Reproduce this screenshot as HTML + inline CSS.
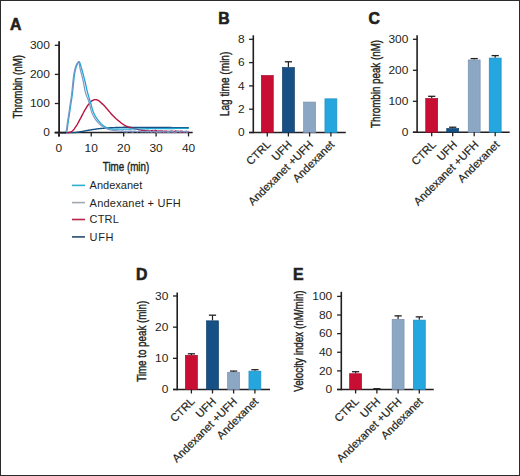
<!DOCTYPE html>
<html><head><meta charset="utf-8"><style>
html,body{margin:0;padding:0;background:#fff;}
svg{display:block;font-family:"Liberation Sans",sans-serif;}
</style></head><body>
<svg width="520" height="476" viewBox="0 0 520 476" font-family="Liberation Sans, sans-serif"><rect x="0.5" y="0.5" width="519" height="475" fill="#fff" stroke="#2b2b2b" stroke-width="1"/>
<text x="10.00" y="29.90" font-size="15.8" text-anchor="start" fill="#231f20" font-weight="bold" stroke="#231f20" stroke-width="0.6">A</text>
<text x="218.30" y="23.80" font-size="15.8" text-anchor="start" fill="#231f20" font-weight="bold" stroke="#231f20" stroke-width="0.6">B</text>
<text x="368.50" y="24.40" font-size="15.8" text-anchor="start" fill="#231f20" font-weight="bold" stroke="#231f20" stroke-width="0.6">C</text>
<text x="135.90" y="280.20" font-size="15.8" text-anchor="start" fill="#231f20" font-weight="bold" stroke="#231f20" stroke-width="0.6">D</text>
<text x="292.90" y="279.70" font-size="15.8" text-anchor="start" fill="#231f20" font-weight="bold" stroke="#231f20" stroke-width="0.6">E</text>
<line x1="59.10" y1="41.30" x2="59.10" y2="136.40" stroke="#231f20" stroke-width="1.8"/>
<line x1="54.80" y1="132.60" x2="59.10" y2="132.60" stroke="#231f20" stroke-width="1.3"/>
<text font-size="10.3" text-anchor="end" fill="#231f20" transform="translate(49.80,136.40) scale(1.16,1)">0</text>
<line x1="54.80" y1="103.50" x2="59.10" y2="103.50" stroke="#231f20" stroke-width="1.3"/>
<text font-size="10.3" text-anchor="end" fill="#231f20" transform="translate(49.80,107.30) scale(1.16,1)">100</text>
<line x1="54.80" y1="74.40" x2="59.10" y2="74.40" stroke="#231f20" stroke-width="1.3"/>
<text font-size="10.3" text-anchor="end" fill="#231f20" transform="translate(49.80,78.20) scale(1.16,1)">200</text>
<line x1="54.80" y1="45.30" x2="59.10" y2="45.30" stroke="#231f20" stroke-width="1.3"/>
<text font-size="10.3" text-anchor="end" fill="#231f20" transform="translate(49.80,49.10) scale(1.16,1)">300</text>
<line x1="54.80" y1="132.60" x2="192.70" y2="132.60" stroke="#231f20" stroke-width="1.5"/>
<line x1="58.80" y1="132.60" x2="58.80" y2="136.40" stroke="#231f20" stroke-width="1.3"/>
<text font-size="10.3" text-anchor="middle" fill="#231f20" transform="translate(58.80,151.60) scale(1.16,1)">0</text>
<line x1="91.23" y1="132.60" x2="91.23" y2="136.40" stroke="#231f20" stroke-width="1.3"/>
<text font-size="10.3" text-anchor="middle" fill="#231f20" transform="translate(91.23,151.60) scale(1.16,1)">10</text>
<line x1="123.66" y1="132.60" x2="123.66" y2="136.40" stroke="#231f20" stroke-width="1.3"/>
<text font-size="10.3" text-anchor="middle" fill="#231f20" transform="translate(123.66,151.60) scale(1.16,1)">20</text>
<line x1="156.09" y1="132.60" x2="156.09" y2="136.40" stroke="#231f20" stroke-width="1.3"/>
<text font-size="10.3" text-anchor="middle" fill="#231f20" transform="translate(156.09,151.60) scale(1.16,1)">30</text>
<line x1="188.52" y1="132.60" x2="188.52" y2="136.40" stroke="#231f20" stroke-width="1.3"/>
<text font-size="10.3" text-anchor="middle" fill="#231f20" transform="translate(188.52,151.60) scale(1.16,1)">40</text>
<text font-size="12.5" text-anchor="middle" fill="#231f20" stroke="#231f20" stroke-width="0.4" textLength="46.5" lengthAdjust="spacingAndGlyphs" transform="translate(126.00,170.60)">Time (min)</text>
<text font-size="12.5" text-anchor="middle" fill="#231f20" stroke="#231f20" stroke-width="0.4" textLength="63.5" lengthAdjust="spacingAndGlyphs" transform="translate(21.90,86.80) rotate(-90)">Thrombin (nM)</text>
<path d="M58.80,132.60 L59.30,132.60 L59.80,132.60 L60.30,132.60 L60.80,132.60 L61.30,132.60 L61.80,132.60 L62.30,132.60 L62.80,132.60 L63.30,132.60 L63.80,132.60 L64.30,132.60 L64.80,132.60 L65.30,132.60 L65.80,132.60 L66.30,132.60 L66.80,132.60 L67.30,132.60 L67.80,132.60 L68.30,132.60 L68.80,132.60 L69.30,132.60 L69.80,132.60 L70.30,132.60 L70.80,132.60 L71.30,132.60 L71.80,132.60 L72.30,132.60 L72.80,132.60 L73.30,132.60 L73.80,132.60 L74.30,132.60 L74.80,132.58 L75.30,132.54 L75.80,132.48 L76.30,132.42 L76.80,132.35 L77.30,132.26 L77.80,132.18 L78.30,132.09 L78.80,132.00 L79.30,131.91 L79.80,131.83 L80.30,131.75 L80.80,131.67 L81.30,131.59 L81.80,131.50 L82.30,131.42 L82.80,131.32 L83.30,131.23 L83.80,131.14 L84.30,131.04 L84.80,130.95 L85.30,130.85 L85.80,130.75 L86.30,130.66 L86.80,130.56 L87.30,130.47 L87.80,130.38 L88.30,130.29 L88.80,130.20 L89.30,130.11 L89.80,130.03 L90.30,129.95 L90.80,129.87 L91.30,129.80 L91.80,129.72 L92.30,129.64 L92.80,129.56 L93.30,129.48 L93.80,129.41 L94.30,129.33 L94.80,129.26 L95.30,129.19 L95.80,129.12 L96.30,129.05 L96.80,128.98 L97.30,128.91 L97.80,128.85 L98.30,128.79 L98.80,128.73 L99.30,128.67 L99.80,128.62 L100.30,128.57 L100.80,128.52 L101.30,128.47 L101.80,128.42 L102.30,128.37 L102.80,128.33 L103.30,128.28 L103.80,128.23 L104.30,128.19 L104.80,128.15 L105.30,128.11 L105.80,128.07 L106.30,128.03 L106.80,127.99 L107.30,127.96 L107.80,127.92 L108.30,127.89 L108.80,127.86 L109.30,127.83 L109.80,127.81 L110.30,127.79 L110.80,127.76 L111.30,127.74 L111.80,127.72 L112.30,127.69 L112.80,127.67 L113.30,127.65 L113.80,127.63 L114.30,127.60 L114.80,127.58 L115.30,127.56 L115.80,127.54 L116.30,127.52 L116.80,127.50 L117.30,127.48 L117.80,127.46 L118.30,127.45 L118.80,127.43 L119.30,127.41 L119.80,127.40 L120.30,127.38 L120.80,127.37 L121.30,127.36 L121.80,127.35 L122.30,127.34 L122.80,127.33 L123.30,127.32 L123.80,127.31 L124.30,127.31 L124.80,127.30 L125.30,127.30 L125.80,127.30 L126.30,127.30 L126.80,127.30 L127.30,127.30 L127.80,127.30 L128.30,127.30 L128.80,127.31 L129.30,127.31 L129.80,127.31 L130.30,127.31 L130.80,127.32 L131.30,127.32 L131.80,127.33 L132.30,127.33 L132.80,127.33 L133.30,127.34 L133.80,127.34 L134.30,127.35 L134.80,127.35 L135.30,127.36 L135.80,127.36 L136.30,127.37 L136.80,127.37 L137.30,127.38 L137.80,127.39 L138.30,127.39 L138.80,127.40 L139.30,127.40 L139.80,127.41 L140.30,127.41 L140.80,127.42 L141.30,127.43 L141.80,127.43 L142.30,127.44 L142.80,127.44 L143.30,127.45 L143.80,127.45 L144.30,127.46 L144.80,127.46 L145.30,127.47 L145.80,127.47 L146.30,127.48 L146.80,127.48 L147.30,127.48 L147.80,127.49 L148.30,127.49 L148.80,127.49 L149.30,127.50 L149.80,127.50 L150.30,127.50 L150.80,127.50 L151.30,127.51 L151.80,127.51 L152.30,127.51 L152.80,127.51 L153.30,127.51 L153.80,127.52 L154.30,127.52 L154.80,127.52 L155.30,127.52 L155.80,127.52 L156.30,127.53 L156.80,127.53 L157.30,127.53 L157.80,127.53 L158.30,127.53 L158.80,127.53 L159.30,127.54 L159.80,127.54 L160.30,127.54 L160.80,127.54 L161.30,127.54 L161.80,127.55 L162.30,127.55 L162.80,127.55 L163.30,127.55 L163.80,127.55 L164.30,127.55 L164.80,127.56 L165.30,127.56 L165.80,127.56 L166.30,127.56 L166.80,127.56 L167.30,127.56 L167.80,127.57 L168.30,127.57 L168.80,127.57 L169.30,127.57 L169.80,127.57 L170.30,127.57 L170.80,127.57 L171.30,127.57 L171.80,127.58 L172.30,127.58 L172.80,127.58 L173.30,127.58 L173.80,127.58 L174.30,127.58 L174.80,127.58 L175.30,127.58 L175.80,127.59 L176.30,127.59 L176.80,127.59 L177.30,127.59 L177.80,127.59 L178.30,127.59 L178.80,127.59 L179.30,127.59 L179.80,127.59 L180.30,127.59 L180.80,127.59 L181.30,127.59 L181.80,127.60 L182.30,127.60 L182.80,127.60 L183.30,127.60 L183.80,127.60 L184.30,127.60 L184.80,127.60 L185.30,127.60 L185.80,127.60 L186.30,127.60 L186.80,127.60 L187.30,127.60 L187.80,127.60 L188.30,127.60 L188.80,127.60" fill="none" stroke="#165084" stroke-width="1.4" stroke-linejoin="round"/>
<path d="M58.80,132.60 L59.30,132.60 L59.80,132.60 L60.30,132.60 L60.80,132.60 L61.30,132.60 L61.80,132.60 L62.30,132.60 L62.80,132.60 L63.30,132.60 L63.80,132.60 L64.30,132.60 L64.80,132.60 L65.30,132.60 L65.80,132.60 L66.30,132.60 L66.80,132.60 L67.30,132.60 L67.80,132.59 L68.30,132.54 L68.80,132.46 L69.30,132.36 L69.80,132.25 L70.30,132.11 L70.80,131.91 L71.30,131.64 L71.80,131.33 L72.30,130.97 L72.80,130.57 L73.30,130.07 L73.80,129.49 L74.30,128.84 L74.80,128.13 L75.30,127.39 L75.80,126.63 L76.30,125.86 L76.80,125.09 L77.30,124.28 L77.80,123.41 L78.30,122.51 L78.80,121.58 L79.30,120.64 L79.80,119.68 L80.30,118.73 L80.80,117.80 L81.30,116.86 L81.80,115.90 L82.30,114.93 L82.80,113.95 L83.30,112.98 L83.80,112.04 L84.30,111.12 L84.80,110.24 L85.30,109.40 L85.80,108.57 L86.30,107.76 L86.80,106.96 L87.30,106.19 L87.80,105.45 L88.30,104.75 L88.80,104.09 L89.30,103.48 L89.80,102.89 L90.30,102.30 L90.80,101.77 L91.30,101.29 L91.80,100.92 L92.30,100.64 L92.80,100.37 L93.30,100.13 L93.80,99.92 L94.30,99.75 L94.80,99.64 L95.30,99.60 L95.80,99.63 L96.30,99.73 L96.80,99.86 L97.30,100.03 L97.80,100.22 L98.30,100.44 L98.80,100.75 L99.30,101.15 L99.80,101.59 L100.30,102.06 L100.80,102.52 L101.30,102.96 L101.80,103.40 L102.30,103.86 L102.80,104.32 L103.30,104.80 L103.80,105.30 L104.30,105.81 L104.80,106.35 L105.30,106.90 L105.80,107.47 L106.30,108.05 L106.80,108.63 L107.30,109.20 L107.80,109.78 L108.30,110.37 L108.80,110.96 L109.30,111.57 L109.80,112.17 L110.30,112.77 L110.80,113.36 L111.30,113.95 L111.80,114.52 L112.30,115.07 L112.80,115.60 L113.30,116.10 L113.80,116.59 L114.30,117.08 L114.80,117.55 L115.30,118.01 L115.80,118.46 L116.30,118.91 L116.80,119.34 L117.30,119.77 L117.80,120.19 L118.30,120.60 L118.80,121.00 L119.30,121.40 L119.80,121.80 L120.30,122.20 L120.80,122.60 L121.30,122.99 L121.80,123.36 L122.30,123.73 L122.80,124.08 L123.30,124.42 L123.80,124.74 L124.30,125.03 L124.80,125.31 L125.30,125.57 L125.80,125.83 L126.30,126.07 L126.80,126.31 L127.30,126.54 L127.80,126.76 L128.30,126.96 L128.80,127.16 L129.30,127.34 L129.80,127.51 L130.30,127.67 L130.80,127.81 L131.30,127.95 L131.80,128.07 L132.30,128.19 L132.80,128.30 L133.30,128.41 L133.80,128.51 L134.30,128.61 L134.80,128.71 L135.30,128.81 L135.80,128.91 L136.30,129.02 L136.80,129.13 L137.30,129.25 L137.80,129.37 L138.30,129.48 L138.80,129.60 L139.30,129.71 L139.80,129.82 L140.30,129.92 L140.80,130.02 L141.30,130.11 L141.80,130.19 L142.30,130.25 L142.80,130.32 L143.30,130.38 L143.80,130.44 L144.30,130.50 L144.80,130.56 L145.30,130.61 L145.80,130.65 L146.30,130.70 L146.80,130.74 L147.30,130.77 L147.80,130.81 L148.30,130.84 L148.80,130.87 L149.30,130.89 L149.80,130.92 L150.30,131.95 L150.80,131.28 L151.30,130.60 L151.80,130.75 L152.30,131.08 L152.80,130.52 L153.30,131.15 L153.80,130.95 L154.30,131.56 L154.80,131.48 L155.30,130.22 L155.80,131.20 L156.30,130.63 L156.80,131.60 L157.30,131.29 L157.80,131.44 L158.30,130.89 L158.80,131.91 L159.30,131.99 L159.80,130.92 L160.30,131.44 L160.80,131.08 L161.30,131.32 L161.80,130.90 L162.30,132.00 L162.80,131.02 L163.30,131.27 L163.80,131.56 L164.30,131.17 L164.80,131.32 L165.30,131.22 L165.80,131.38 L166.30,131.02 L166.80,131.29 L167.30,131.38 L167.80,131.35 L168.30,131.49 L168.80,131.38 L169.30,131.76 L169.80,131.39 L170.30,131.46 L170.80,131.29 L171.30,131.34 L171.80,131.09 L172.30,131.73 L172.80,131.15 L173.30,131.30 L173.80,131.69 L174.30,131.72 L174.80,131.44 L175.30,130.89 L175.80,131.75 L176.30,131.70 L176.80,131.12 L177.30,131.89 L177.80,131.38 L178.30,131.24 L178.80,131.67 L179.30,131.58 L179.80,131.72 L180.30,131.09 L180.80,132.29 L181.30,131.45 L181.80,131.13 L182.30,131.89 L182.80,131.55 L183.30,131.79 L183.80,131.56 L184.30,131.67 L184.80,131.77 L185.30,131.43 L185.80,131.93 L186.30,131.53 L186.80,131.39 L187.30,131.73 L187.80,131.85 L188.30,131.62 L188.80,131.40" fill="none" stroke="#b8123f" stroke-width="1.4" stroke-linejoin="round"/>
<path d="M58.80,132.60 L59.30,132.60 L59.80,132.60 L60.30,132.60 L60.80,132.60 L61.30,132.60 L61.80,132.60 L62.30,132.60 L62.80,132.60 L63.30,132.60 L63.80,132.60 L64.30,132.60 L64.80,132.60 L65.30,132.60 L65.80,132.60 L66.30,132.26 L66.80,131.24 L67.30,128.65 L67.80,124.89 L68.30,121.20 L68.80,118.00 L69.30,114.79 L69.80,111.43 L70.30,107.89 L70.80,104.40 L71.30,101.25 L71.80,98.12 L72.30,94.38 L72.80,89.78 L73.30,85.07 L73.80,80.10 L74.30,75.69 L74.80,72.62 L75.30,70.17 L75.80,68.25 L76.30,66.69 L76.80,65.38 L77.30,64.30 L77.80,63.29 L78.30,62.34 L78.80,61.72 L79.30,61.70 L79.80,62.67 L80.30,64.28 L80.80,66.06 L81.30,67.63 L81.80,69.27 L82.30,71.01 L82.80,72.82 L83.30,74.70 L83.80,76.64 L84.30,78.61 L84.80,80.60 L85.30,82.74 L85.80,85.01 L86.30,87.31 L86.80,89.54 L87.30,91.61 L87.80,93.48 L88.30,95.23 L88.80,96.89 L89.30,98.51 L89.80,100.12 L90.30,101.76 L90.80,103.50 L91.30,105.33 L91.80,107.18 L92.30,108.96 L92.80,110.58 L93.30,111.96 L93.80,113.10 L94.30,114.15 L94.80,115.12 L95.30,116.02 L95.80,116.86 L96.30,117.65 L96.80,118.40 L97.30,119.11 L97.80,119.80 L98.30,120.46 L98.80,121.11 L99.30,121.72 L99.80,122.31 L100.30,122.86 L100.80,123.39 L101.30,123.88 L101.80,124.33 L102.30,124.75 L102.80,125.16 L103.30,125.55 L103.80,125.92 L104.30,126.28 L104.80,126.61 L105.30,126.91 L105.80,127.18 L106.30,127.42 L106.80,127.62 L107.30,127.81 L107.80,127.99 L108.30,128.16 L108.80,128.32 L109.30,128.46 L109.80,128.58 L110.30,128.69 L110.80,128.77 L111.30,128.84 L111.80,128.90 L112.30,128.96 L112.80,129.01 L113.30,129.06 L113.80,129.10 L114.30,129.14 L114.80,129.17 L115.30,129.19 L115.80,129.20 L116.30,129.20 L116.80,129.20 L117.30,129.20 L117.80,129.19 L118.30,129.19 L118.80,129.19 L119.30,129.18 L119.80,129.17 L120.30,129.17 L120.80,129.16 L121.30,129.15 L121.80,129.14 L122.30,129.14 L122.80,129.13 L123.30,129.12 L123.80,129.11 L124.30,129.10 L124.80,129.09 L125.30,129.08 L125.80,129.07 L126.30,129.06 L126.80,129.05 L127.30,129.04 L127.80,129.03 L128.30,129.03 L128.80,129.02 L129.30,129.01 L129.80,129.00 L130.30,129.00 L130.80,128.99 L131.30,128.98 L131.80,128.97 L132.30,128.97 L132.80,128.96 L133.30,128.95 L133.80,128.95 L134.30,128.94 L134.80,128.93 L135.30,128.92 L135.80,128.92 L136.30,128.91 L136.80,128.90 L137.30,128.89 L137.80,128.89 L138.30,128.88 L138.80,128.87 L139.30,128.87 L139.80,128.86 L140.30,128.85 L140.80,128.84 L141.30,128.84 L141.80,128.83 L142.30,128.82 L142.80,128.81 L143.30,128.81 L143.80,128.80 L144.30,128.79 L144.80,128.78 L145.30,128.78 L145.80,128.77 L146.30,128.76 L146.80,128.76 L147.30,128.75 L147.80,128.74 L148.30,128.74 L148.80,128.73 L149.30,128.72 L149.80,128.72 L150.30,128.71 L150.80,128.70 L151.30,128.70 L151.80,128.69 L152.30,128.68 L152.80,128.68 L153.30,128.67 L153.80,128.67 L154.30,128.66 L154.80,128.65 L155.30,128.65 L155.80,128.64 L156.30,128.64 L156.80,128.63 L157.30,128.63 L157.80,128.62 L158.30,128.62 L158.80,128.61 L159.30,128.61 L159.80,128.60 L160.30,128.60 L160.80,128.59 L161.30,128.59 L161.80,128.58 L162.30,128.58 L162.80,128.57 L163.30,128.57 L163.80,128.57 L164.30,128.56 L164.80,128.56 L165.30,128.55 L165.80,128.55 L166.30,128.54 L166.80,128.54 L167.30,128.54 L167.80,128.53 L168.30,128.53 L168.80,128.52 L169.30,128.52 L169.80,128.52 L170.30,128.51 L170.80,128.51 L171.30,128.50 L171.80,128.50 L172.30,128.50 L172.80,128.49 L173.30,128.49 L173.80,128.49 L174.30,128.48 L174.80,128.48 L175.30,128.47 L175.80,128.47 L176.30,128.47 L176.80,128.46 L177.30,128.46 L177.80,128.46 L178.30,128.45 L178.80,128.45 L179.30,128.45 L179.80,128.45 L180.30,128.44 L180.80,128.44 L181.30,128.44 L181.80,128.43 L182.30,128.43 L182.80,128.43 L183.30,128.43 L183.80,128.42 L184.30,128.42 L184.80,128.42 L185.30,128.42 L185.80,128.41 L186.30,128.41 L186.80,128.41 L187.30,128.41 L187.80,128.40 L188.30,128.40 L188.80,128.40" fill="none" stroke="#1fa5d2" stroke-width="1.3" stroke-linejoin="round"/>
<path d="M58.80,132.60 L59.30,132.60 L59.80,132.60 L60.30,132.60 L60.80,132.60 L61.30,132.60 L61.80,132.60 L62.30,132.60 L62.80,132.60 L63.30,132.60 L63.80,132.60 L64.30,132.60 L64.80,132.60 L65.30,132.58 L65.80,131.91 L66.30,130.43 L66.80,127.22 L67.30,123.33 L67.80,119.92 L68.30,116.72 L68.80,113.47 L69.30,110.02 L69.80,106.47 L70.30,103.10 L70.80,100.03 L71.30,96.74 L71.80,92.61 L72.30,87.87 L72.80,83.10 L73.30,78.18 L73.80,74.37 L74.30,71.58 L74.80,69.35 L75.30,67.57 L75.80,66.01 L76.30,64.74 L76.80,63.85 L77.30,63.13 L77.80,62.49 L78.30,62.02 L78.80,61.81 L79.30,63.74 L79.80,67.20 L80.30,69.52 L80.80,71.58 L81.30,73.48 L81.80,75.34 L82.30,77.24 L82.80,79.31 L83.30,81.67 L83.80,84.39 L84.30,87.21 L84.80,89.84 L85.30,92.00 L85.80,93.68 L86.30,95.13 L86.80,96.42 L87.30,97.62 L87.80,98.82 L88.30,100.08 L88.80,101.48 L89.30,103.13 L89.80,105.08 L90.30,107.17 L90.80,109.21 L91.30,111.03 L91.80,112.45 L92.30,113.64 L92.80,114.73 L93.30,115.73 L93.80,116.66 L94.30,117.52 L94.80,118.32 L95.30,119.07 L95.80,119.79 L96.30,120.47 L96.80,121.12 L97.30,121.74 L97.80,122.32 L98.30,122.87 L98.80,123.39 L99.30,123.87 L99.80,124.33 L100.30,124.75 L100.80,125.16 L101.30,125.55 L101.80,125.92 L102.30,126.27 L102.80,126.60 L103.30,126.92 L103.80,127.22 L104.30,127.49 L104.80,127.76 L105.30,128.01 L105.80,128.26 L106.30,128.50 L106.80,128.72 L107.30,128.93 L107.80,129.12 L108.30,129.29 L108.80,129.45 L109.30,129.58 L109.80,129.70 L110.30,129.81 L110.80,129.92 L111.30,130.03 L111.80,130.12 L112.30,130.21 L112.80,130.30 L113.30,130.37 L113.80,130.45 L114.30,130.51 L114.80,130.58 L115.30,130.63 L115.80,130.69 L116.30,130.75 L116.80,130.80 L117.30,130.86 L117.80,130.91 L118.30,130.96 L118.80,131.01 L119.30,131.06 L119.80,131.11 L120.30,131.44 L120.80,131.51 L121.30,130.96 L121.80,131.05 L122.30,131.08 L122.80,130.79 L123.30,131.11 L123.80,131.33 L124.30,131.66 L124.80,131.92 L125.30,131.08 L125.80,131.63 L126.30,131.24 L126.80,132.26 L127.30,131.41 L127.80,131.64 L128.30,131.07 L128.80,131.13 L129.30,131.54 L129.80,131.31 L130.30,131.61 L130.80,130.85 L131.30,131.75 L131.80,131.13 L132.30,132.19 L132.80,131.39 L133.30,131.95 L133.80,130.96 L134.30,131.69 L134.80,131.17 L135.30,131.34 L135.80,131.55 L136.30,131.42 L136.80,131.66 L137.30,131.86 L137.80,131.82 L138.30,131.53 L138.80,131.03 L139.30,131.26 L139.80,131.50 L140.30,130.74 L140.80,131.89 L141.30,131.50 L141.80,131.50 L142.30,131.99 L142.80,131.88 L143.30,131.70 L143.80,131.22 L144.30,131.75 L144.80,131.77 L145.30,131.28 L145.80,132.06 L146.30,131.85 L146.80,130.86 L147.30,131.70 L147.80,131.15 L148.30,132.11 L148.80,131.99 L149.30,131.22 L149.80,131.32 L150.30,131.71 L150.80,131.58 L151.30,132.29 L151.80,131.98 L152.30,131.57 L152.80,131.92 L153.30,130.88 L153.80,131.82 L154.30,132.05 L154.80,131.63 L155.30,131.42 L155.80,131.94 L156.30,132.50 L156.80,131.80 L157.30,131.27 L157.80,132.30 L158.30,130.97 L158.80,131.93 L159.30,131.50 L159.80,132.10 L160.30,131.39 L160.80,132.27 L161.30,131.86 L161.80,131.05 L162.30,130.95 L162.80,131.62 L163.30,132.27 L163.80,131.80 L164.30,131.78 L164.80,131.66 L165.30,132.05 L165.80,131.91 L166.30,131.87 L166.80,131.37 L167.30,132.24 L167.80,132.31 L168.30,131.25 L168.80,132.69 L169.30,132.06 L169.80,131.58 L170.30,131.01 L170.80,132.04 L171.30,132.00 L171.80,131.54 L172.30,131.06 L172.80,132.23 L173.30,131.55 L173.80,131.59 L174.30,132.92 L174.80,132.64 L175.30,132.17 L175.80,131.61 L176.30,132.05 L176.80,130.88 L177.30,131.83 L177.80,131.49 L178.30,131.28 L178.80,131.16 L179.30,132.00 L179.80,131.83 L180.30,131.86 L180.80,132.13 L181.30,131.46 L181.80,131.30 L182.30,131.09 L182.80,131.66 L183.30,132.10 L183.80,131.74 L184.30,132.05 L184.80,131.33 L185.30,131.61 L185.80,131.49 L186.30,131.30 L186.80,132.54 L187.30,132.14 L187.80,131.50 L188.30,131.49 L188.80,131.78" fill="none" stroke="#7f95c4" stroke-width="1.2" stroke-linejoin="round"/>
<line x1="54.80" y1="132.60" x2="66.26" y2="132.60" stroke="#231f20" stroke-width="1.5"/>
<line x1="72.00" y1="185.40" x2="85.00" y2="185.40" stroke="#2fb0cc" stroke-width="1.6"/>
<text x="89.60" y="189.30" font-size="11" text-anchor="start" fill="#231f20" >Andexanet</text>
<line x1="72.00" y1="202.60" x2="85.00" y2="202.60" stroke="#a3a9b0" stroke-width="1.6"/>
<text x="89.60" y="206.50" font-size="11" text-anchor="start" fill="#231f20" textLength="91" lengthAdjust="spacing">Andexanet + UFH</text>
<line x1="72.00" y1="219.50" x2="85.00" y2="219.50" stroke="#b8234a" stroke-width="1.6"/>
<text x="89.60" y="223.40" font-size="11" text-anchor="start" fill="#231f20" textLength="29.2" lengthAdjust="spacing">CTRL</text>
<line x1="72.00" y1="236.90" x2="85.00" y2="236.90" stroke="#284a70" stroke-width="1.6"/>
<text x="89.60" y="240.80" font-size="11" text-anchor="start" fill="#231f20" textLength="23.8" lengthAdjust="spacing">UFH</text>
<line x1="253.30" y1="35.30" x2="253.30" y2="133.20" stroke="#231f20" stroke-width="1.6"/>
<line x1="249.10" y1="132.50" x2="253.30" y2="132.50" stroke="#231f20" stroke-width="1.3"/>
<text font-size="10.3" text-anchor="end" fill="#231f20" transform="translate(244.60,136.30) scale(1.16,1)">0</text>
<line x1="249.10" y1="109.20" x2="253.30" y2="109.20" stroke="#231f20" stroke-width="1.3"/>
<text font-size="10.3" text-anchor="end" fill="#231f20" transform="translate(244.60,113.00) scale(1.16,1)">2</text>
<line x1="249.10" y1="85.90" x2="253.30" y2="85.90" stroke="#231f20" stroke-width="1.3"/>
<text font-size="10.3" text-anchor="end" fill="#231f20" transform="translate(244.60,89.70) scale(1.16,1)">4</text>
<line x1="249.10" y1="62.60" x2="253.30" y2="62.60" stroke="#231f20" stroke-width="1.3"/>
<text font-size="10.3" text-anchor="end" fill="#231f20" transform="translate(244.60,66.40) scale(1.16,1)">6</text>
<line x1="249.10" y1="39.30" x2="253.30" y2="39.30" stroke="#231f20" stroke-width="1.3"/>
<text font-size="10.3" text-anchor="end" fill="#231f20" transform="translate(244.60,43.10) scale(1.16,1)">8</text>
<line x1="249.10" y1="132.50" x2="345.80" y2="132.50" stroke="#231f20" stroke-width="1.5"/>
<rect x="261.35" y="75.53" width="11.90" height="56.97" fill="#c90e34" stroke="#a60d2c" stroke-width="0.7"/>
<line x1="267.30" y1="132.50" x2="267.30" y2="136.50" stroke="#231f20" stroke-width="1.3"/>
<text x="0.00" y="0.00" font-size="11.2" text-anchor="end" fill="#231f20" stroke="#231f20" stroke-width="0.2" transform="translate(271.40,145.20) rotate(-45)">CTRL</text>
<line x1="288.40" y1="61.78" x2="288.40" y2="67.26" stroke="#231f20" stroke-width="1.2"/>
<line x1="284.80" y1="61.78" x2="292.00" y2="61.78" stroke="#231f20" stroke-width="1.3"/>
<rect x="282.45" y="67.61" width="11.90" height="64.89" fill="#165084" stroke="#0f3f6a" stroke-width="0.7"/>
<line x1="288.40" y1="132.50" x2="288.40" y2="136.50" stroke="#231f20" stroke-width="1.3"/>
<text x="0.00" y="0.00" font-size="11.2" text-anchor="end" fill="#231f20" stroke="#231f20" stroke-width="0.2" transform="translate(292.50,145.20) rotate(-45)">UFH</text>
<rect x="303.65" y="102.09" width="11.90" height="30.41" fill="#8ca7c4" stroke="#7891ae" stroke-width="0.7"/>
<line x1="309.60" y1="132.50" x2="309.60" y2="136.50" stroke="#231f20" stroke-width="1.3"/>
<text x="0.00" y="0.00" font-size="11.2" text-anchor="end" fill="#231f20" stroke="#231f20" stroke-width="0.2" transform="translate(313.70,145.20) rotate(-45)">Andexanet +UFH</text>
<rect x="324.95" y="98.83" width="11.90" height="33.67" fill="#25a6de" stroke="#1c8ec2" stroke-width="0.7"/>
<line x1="330.90" y1="132.50" x2="330.90" y2="136.50" stroke="#231f20" stroke-width="1.3"/>
<text x="0.00" y="0.00" font-size="11.2" text-anchor="end" fill="#231f20" stroke="#231f20" stroke-width="0.2" transform="translate(335.00,145.20) rotate(-45)">Andexanet</text>
<text font-size="12.5" text-anchor="middle" fill="#231f20" stroke="#231f20" stroke-width="0.4" textLength="64.5" lengthAdjust="spacingAndGlyphs" transform="translate(229.40,83.90) rotate(-90)">Lag time (min)</text>
<line x1="417.10" y1="35.30" x2="417.10" y2="133.00" stroke="#231f20" stroke-width="1.6"/>
<line x1="412.90" y1="132.30" x2="417.10" y2="132.30" stroke="#231f20" stroke-width="1.3"/>
<text font-size="10.3" text-anchor="end" fill="#231f20" transform="translate(408.30,136.10) scale(1.16,1)">0</text>
<line x1="412.90" y1="101.30" x2="417.10" y2="101.30" stroke="#231f20" stroke-width="1.3"/>
<text font-size="10.3" text-anchor="end" fill="#231f20" transform="translate(408.30,105.10) scale(1.16,1)">100</text>
<line x1="412.90" y1="70.30" x2="417.10" y2="70.30" stroke="#231f20" stroke-width="1.3"/>
<text font-size="10.3" text-anchor="end" fill="#231f20" transform="translate(408.30,74.10) scale(1.16,1)">200</text>
<line x1="412.90" y1="39.30" x2="417.10" y2="39.30" stroke="#231f20" stroke-width="1.3"/>
<text font-size="10.3" text-anchor="end" fill="#231f20" transform="translate(408.30,43.10) scale(1.16,1)">300</text>
<line x1="412.90" y1="132.30" x2="509.70" y2="132.30" stroke="#231f20" stroke-width="1.5"/>
<line x1="431.70" y1="96.31" x2="431.70" y2="98.11" stroke="#231f20" stroke-width="1.2"/>
<line x1="428.10" y1="96.31" x2="435.30" y2="96.31" stroke="#231f20" stroke-width="1.3"/>
<rect x="425.75" y="98.46" width="11.90" height="33.84" fill="#c90e34" stroke="#a60d2c" stroke-width="0.7"/>
<line x1="431.70" y1="132.30" x2="431.70" y2="136.30" stroke="#231f20" stroke-width="1.3"/>
<text x="0.00" y="0.00" font-size="11.2" text-anchor="end" fill="#231f20" stroke="#231f20" stroke-width="0.2" transform="translate(436.70,145.30) rotate(-45)">CTRL</text>
<line x1="452.70" y1="127.22" x2="452.70" y2="128.21" stroke="#231f20" stroke-width="1.2"/>
<line x1="449.10" y1="127.22" x2="456.30" y2="127.22" stroke="#231f20" stroke-width="1.3"/>
<rect x="446.75" y="128.56" width="11.90" height="3.74" fill="#165084" stroke="#0f3f6a" stroke-width="0.7"/>
<line x1="452.70" y1="132.30" x2="452.70" y2="136.30" stroke="#231f20" stroke-width="1.3"/>
<text x="0.00" y="0.00" font-size="11.2" text-anchor="end" fill="#231f20" stroke="#231f20" stroke-width="0.2" transform="translate(457.70,145.30) rotate(-45)">UFH</text>
<line x1="474.20" y1="58.61" x2="474.20" y2="59.61" stroke="#231f20" stroke-width="1.2"/>
<line x1="470.60" y1="58.61" x2="477.80" y2="58.61" stroke="#231f20" stroke-width="1.3"/>
<rect x="468.25" y="59.96" width="11.90" height="72.34" fill="#8ca7c4" stroke="#7891ae" stroke-width="0.7"/>
<line x1="474.20" y1="132.30" x2="474.20" y2="136.30" stroke="#231f20" stroke-width="1.3"/>
<text x="0.00" y="0.00" font-size="11.2" text-anchor="end" fill="#231f20" stroke="#231f20" stroke-width="0.2" transform="translate(479.20,145.30) rotate(-45)">Andexanet +UFH</text>
<line x1="495.20" y1="55.61" x2="495.20" y2="57.71" stroke="#231f20" stroke-width="1.2"/>
<line x1="491.60" y1="55.61" x2="498.80" y2="55.61" stroke="#231f20" stroke-width="1.3"/>
<rect x="489.25" y="58.06" width="11.90" height="74.24" fill="#25a6de" stroke="#1c8ec2" stroke-width="0.7"/>
<line x1="495.20" y1="132.30" x2="495.20" y2="136.30" stroke="#231f20" stroke-width="1.3"/>
<text x="0.00" y="0.00" font-size="11.2" text-anchor="end" fill="#231f20" stroke="#231f20" stroke-width="0.2" transform="translate(500.20,145.30) rotate(-45)">Andexanet</text>
<text font-size="12.5" text-anchor="middle" fill="#231f20" stroke="#231f20" stroke-width="0.4" textLength="88" lengthAdjust="spacingAndGlyphs" transform="translate(380.10,83.95) rotate(-90)">Thrombin peak (nM)</text>
<line x1="177.20" y1="292.50" x2="177.20" y2="390.20" stroke="#231f20" stroke-width="1.6"/>
<line x1="173.00" y1="389.50" x2="177.20" y2="389.50" stroke="#231f20" stroke-width="1.3"/>
<text font-size="10.3" text-anchor="end" fill="#231f20" transform="translate(168.30,393.30) scale(1.16,1)">0</text>
<line x1="173.00" y1="358.33" x2="177.20" y2="358.33" stroke="#231f20" stroke-width="1.3"/>
<text font-size="10.3" text-anchor="end" fill="#231f20" transform="translate(168.30,362.13) scale(1.16,1)">10</text>
<line x1="173.00" y1="327.16" x2="177.20" y2="327.16" stroke="#231f20" stroke-width="1.3"/>
<text font-size="10.3" text-anchor="end" fill="#231f20" transform="translate(168.30,330.96) scale(1.16,1)">20</text>
<line x1="173.00" y1="295.99" x2="177.20" y2="295.99" stroke="#231f20" stroke-width="1.3"/>
<text font-size="10.3" text-anchor="end" fill="#231f20" transform="translate(168.30,299.79) scale(1.16,1)">30</text>
<line x1="173.00" y1="389.50" x2="270.00" y2="389.50" stroke="#231f20" stroke-width="1.5"/>
<line x1="191.40" y1="353.81" x2="191.40" y2="354.99" stroke="#231f20" stroke-width="1.2"/>
<line x1="187.80" y1="353.81" x2="195.00" y2="353.81" stroke="#231f20" stroke-width="1.3"/>
<rect x="185.45" y="355.34" width="11.90" height="34.16" fill="#c90e34" stroke="#a60d2c" stroke-width="0.7"/>
<line x1="191.40" y1="389.50" x2="191.40" y2="393.50" stroke="#231f20" stroke-width="1.3"/>
<text x="0.00" y="0.00" font-size="11.2" text-anchor="end" fill="#231f20" stroke="#231f20" stroke-width="0.2" transform="translate(195.50,402.20) rotate(-45)">CTRL</text>
<line x1="212.50" y1="315.19" x2="212.50" y2="320.49" stroke="#231f20" stroke-width="1.2"/>
<line x1="208.90" y1="315.19" x2="216.10" y2="315.19" stroke="#231f20" stroke-width="1.3"/>
<rect x="206.55" y="320.84" width="11.90" height="68.66" fill="#165084" stroke="#0f3f6a" stroke-width="0.7"/>
<line x1="212.50" y1="389.50" x2="212.50" y2="393.50" stroke="#231f20" stroke-width="1.3"/>
<text x="0.00" y="0.00" font-size="11.2" text-anchor="end" fill="#231f20" stroke="#231f20" stroke-width="0.2" transform="translate(216.60,402.20) rotate(-45)">UFH</text>
<line x1="233.60" y1="371.08" x2="233.60" y2="371.89" stroke="#231f20" stroke-width="1.2"/>
<line x1="230.00" y1="371.08" x2="237.20" y2="371.08" stroke="#231f20" stroke-width="1.3"/>
<rect x="227.65" y="372.24" width="11.90" height="17.26" fill="#8ca7c4" stroke="#7891ae" stroke-width="0.7"/>
<line x1="233.60" y1="389.50" x2="233.60" y2="393.50" stroke="#231f20" stroke-width="1.3"/>
<text x="0.00" y="0.00" font-size="11.2" text-anchor="end" fill="#231f20" stroke="#231f20" stroke-width="0.2" transform="translate(237.70,402.20) rotate(-45)">Andexanet +UFH</text>
<line x1="254.90" y1="369.71" x2="254.90" y2="370.80" stroke="#231f20" stroke-width="1.2"/>
<line x1="251.30" y1="369.71" x2="258.50" y2="369.71" stroke="#231f20" stroke-width="1.3"/>
<rect x="248.95" y="371.15" width="11.90" height="18.35" fill="#25a6de" stroke="#1c8ec2" stroke-width="0.7"/>
<line x1="254.90" y1="389.50" x2="254.90" y2="393.50" stroke="#231f20" stroke-width="1.3"/>
<text x="0.00" y="0.00" font-size="11.2" text-anchor="end" fill="#231f20" stroke="#231f20" stroke-width="0.2" transform="translate(259.00,402.20) rotate(-45)">Andexanet</text>
<text font-size="12.5" text-anchor="middle" fill="#231f20" stroke="#231f20" stroke-width="0.4" textLength="81" lengthAdjust="spacingAndGlyphs" transform="translate(146.20,341.30) rotate(-90)">Time to peak (min)</text>
<line x1="341.30" y1="291.80" x2="341.30" y2="390.20" stroke="#231f20" stroke-width="1.6"/>
<line x1="337.10" y1="389.50" x2="341.30" y2="389.50" stroke="#231f20" stroke-width="1.3"/>
<text font-size="10.3" text-anchor="end" fill="#231f20" transform="translate(332.20,393.30) scale(1.16,1)">0</text>
<line x1="337.10" y1="370.88" x2="341.30" y2="370.88" stroke="#231f20" stroke-width="1.3"/>
<text font-size="10.3" text-anchor="end" fill="#231f20" transform="translate(332.20,374.68) scale(1.16,1)">20</text>
<line x1="337.10" y1="352.26" x2="341.30" y2="352.26" stroke="#231f20" stroke-width="1.3"/>
<text font-size="10.3" text-anchor="end" fill="#231f20" transform="translate(332.20,356.06) scale(1.16,1)">40</text>
<line x1="337.10" y1="333.64" x2="341.30" y2="333.64" stroke="#231f20" stroke-width="1.3"/>
<text font-size="10.3" text-anchor="end" fill="#231f20" transform="translate(332.20,337.44) scale(1.16,1)">60</text>
<line x1="337.10" y1="315.02" x2="341.30" y2="315.02" stroke="#231f20" stroke-width="1.3"/>
<text font-size="10.3" text-anchor="end" fill="#231f20" transform="translate(332.20,318.82) scale(1.16,1)">80</text>
<line x1="337.10" y1="296.40" x2="341.30" y2="296.40" stroke="#231f20" stroke-width="1.3"/>
<text font-size="10.3" text-anchor="end" fill="#231f20" transform="translate(332.20,300.20) scale(1.16,1)">100</text>
<line x1="337.10" y1="389.50" x2="433.80" y2="389.50" stroke="#231f20" stroke-width="1.5"/>
<line x1="355.60" y1="371.72" x2="355.60" y2="373.39" stroke="#231f20" stroke-width="1.2"/>
<line x1="352.00" y1="371.72" x2="359.20" y2="371.72" stroke="#231f20" stroke-width="1.3"/>
<rect x="349.65" y="373.74" width="11.90" height="15.76" fill="#c90e34" stroke="#a60d2c" stroke-width="0.7"/>
<line x1="355.60" y1="389.50" x2="355.60" y2="393.50" stroke="#231f20" stroke-width="1.3"/>
<text x="0.00" y="0.00" font-size="11.2" text-anchor="end" fill="#231f20" stroke="#231f20" stroke-width="0.2" transform="translate(359.70,402.20) rotate(-45)">CTRL</text>
<line x1="376.90" y1="388.71" x2="376.90" y2="389.36" stroke="#231f20" stroke-width="1.2"/>
<line x1="373.30" y1="388.71" x2="380.50" y2="388.71" stroke="#231f20" stroke-width="1.3"/>
<rect x="370.95" y="389.71" width="11.90" height="-0.21" fill="#165084" stroke="#0f3f6a" stroke-width="0.7"/>
<line x1="376.90" y1="389.50" x2="376.90" y2="393.50" stroke="#231f20" stroke-width="1.3"/>
<text x="0.00" y="0.00" font-size="11.2" text-anchor="end" fill="#231f20" stroke="#231f20" stroke-width="0.2" transform="translate(381.00,402.20) rotate(-45)">UFH</text>
<line x1="398.10" y1="315.86" x2="398.10" y2="319.02" stroke="#231f20" stroke-width="1.2"/>
<line x1="394.50" y1="315.86" x2="401.70" y2="315.86" stroke="#231f20" stroke-width="1.3"/>
<rect x="392.15" y="319.37" width="11.90" height="70.13" fill="#8ca7c4" stroke="#7891ae" stroke-width="0.7"/>
<line x1="398.10" y1="389.50" x2="398.10" y2="393.50" stroke="#231f20" stroke-width="1.3"/>
<text x="0.00" y="0.00" font-size="11.2" text-anchor="end" fill="#231f20" stroke="#231f20" stroke-width="0.2" transform="translate(402.20,402.20) rotate(-45)">Andexanet +UFH</text>
<line x1="419.30" y1="316.88" x2="419.30" y2="319.77" stroke="#231f20" stroke-width="1.2"/>
<line x1="415.70" y1="316.88" x2="422.90" y2="316.88" stroke="#231f20" stroke-width="1.3"/>
<rect x="413.35" y="320.12" width="11.90" height="69.38" fill="#25a6de" stroke="#1c8ec2" stroke-width="0.7"/>
<line x1="419.30" y1="389.50" x2="419.30" y2="393.50" stroke="#231f20" stroke-width="1.3"/>
<text x="0.00" y="0.00" font-size="11.2" text-anchor="end" fill="#231f20" stroke="#231f20" stroke-width="0.2" transform="translate(423.40,402.20) rotate(-45)">Andexanet</text>
<text font-size="12.5" text-anchor="middle" fill="#231f20" stroke="#231f20" stroke-width="0.4" textLength="101.5" lengthAdjust="spacingAndGlyphs" transform="translate(303.20,341.10) rotate(-90)">Velocity index (nM/min)</text></svg>
</body></html>
